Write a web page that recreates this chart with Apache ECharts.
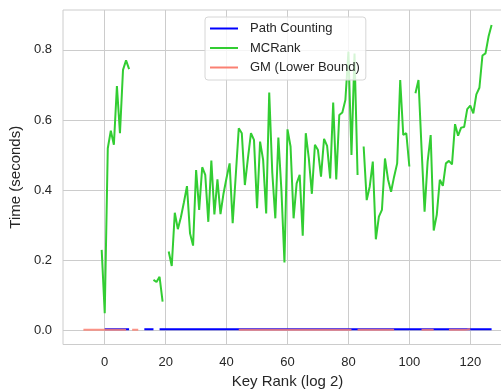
<!DOCTYPE html>
<html>
<head>
<meta charset="utf-8">
<script src="https://cdn.jsdelivr.net/npm/echarts@6/dist/echarts.min.js"></script>
<style>
  html, body { margin: 0; padding: 0; background: #ffffff; }
  #chart { width: 501px; height: 392px; }
</style>
</head>
<body>
<div id="chart"></div>
<script>
// Key rank (log2) for every sample position
const keyRank = [
  -7, -6, -5, -4, -3, -2, -1, 0, 1, 2, 3, 4, 5, 6, 7, 8, 9, 10, 11, 12,
  13, 14, 15, 16, 17, 18, 19, 20, 21, 22, 23, 24, 25, 26, 27, 28, 29, 30, 31, 32,
  33, 34, 35, 36, 37, 38, 39, 40, 41, 42, 43, 44, 45, 46, 47, 48, 49, 50, 51, 52,
  53, 54, 55, 56, 57, 58, 59, 60, 61, 62, 63, 64, 65, 66, 67, 68, 69, 70, 71, 72,
  73, 74, 75, 76, 77, 78, 79, 80, 81, 82, 83, 84, 85, 86, 87, 88, 89, 90, 91, 92,
  93, 94, 95, 96, 97, 98, 99, 100, 101, 102, 103, 104, 105, 106, 107, 108, 109, 110, 111, 112,
  113, 114, 115, 116, 117, 118, 119, 120, 121, 122, 123, 124, 125, 126, 127
];

// MCRank time in seconds (null = no measurement)
const mcRank = [
  null, null, null, null, null, null, 0.229, 0.048, 0.519, 0.569, 0.529, 0.697, 0.562, 0.743, 0.770, 0.745, null, null, null, null,
  null, null, null, 0.143, 0.137, 0.152, 0.081, null, 0.224, 0.183, 0.335, 0.288, 0.322, 0.365, 0.411, 0.276, 0.241, 0.457, 0.343, 0.465,
  0.443, 0.309, 0.484, 0.330, 0.430, 0.331, 0.390, 0.435, 0.476, 0.305, 0.440, 0.576, 0.562, 0.414, 0.490, 0.562, 0.543, 0.348, 0.538, 0.486,
  0.333, 0.678, 0.450, 0.319, 0.550, 0.400, 0.193, 0.573, 0.524, 0.319, 0.419, 0.443, 0.269, 0.562, 0.490, 0.389, 0.529, 0.514, 0.438, 0.546,
  0.526, 0.433, 0.650, 0.430, 0.614, 0.621, 0.657, 0.795, 0.500, 0.790, 0.443, null, 0.524, 0.371, 0.410, 0.481, 0.259, 0.324, 0.343, 0.490,
  0.430, 0.395, 0.438, 0.476, 0.714, 0.557, 0.562, 0.467, null, 0.676, 0.714, 0.520, 0.338, 0.481, 0.557, 0.284, 0.329, 0.429, 0.412, 0.476,
  0.483, 0.473, 0.588, 0.555, 0.578, 0.580, 0.631, 0.641, 0.619, 0.673, 0.692, 0.784, 0.790, 0.838, 0.871
];

// Path Counting time in seconds
const pathCounting = [
  null, null, null, null, null, null, null, 0.0025, 0.0025, 0.0025, 0.0025, 0.0025, 0.0025, 0.0025, 0.0025, 0.0025, null, null, null, null,
  0.0025, 0.0025, 0.0025, 0.0025, null, 0.0025, 0.0025, 0.0025, 0.0025, 0.0025, 0.0025, 0.0025, 0.0025, 0.0025, 0.0025, 0.0025, 0.0025, 0.0025, 0.0025, 0.0025,
  0.0025, 0.0025, 0.0025, 0.0025, 0.0025, 0.0025, 0.0025, 0.0025, 0.0025, 0.0025, 0.0025, 0.0025, 0.0025, 0.0025, 0.0025, 0.0025, 0.0025, 0.0025, 0.0025, 0.0025,
  0.0025, 0.0025, 0.0025, 0.0025, 0.0025, 0.0025, 0.0025, 0.0025, 0.0025, 0.0025, 0.0025, 0.0025, 0.0025, 0.0025, 0.0025, 0.0025, 0.0025, 0.0025, 0.0025, 0.0025,
  0.0025, 0.0025, 0.0025, 0.0025, 0.0025, 0.0025, 0.0025, 0.0025, 0.0025, 0.0025, 0.0025, 0.0025, 0.0025, 0.0025, 0.0025, 0.0025, 0.0025, 0.0025, 0.0025, 0.0025,
  0.0025, 0.0025, 0.0025, 0.0025, 0.0025, 0.0025, 0.0025, 0.0025, 0.0025, 0.0025, 0.0025, 0.0025, 0.0025, 0.0025, 0.0025, 0.0025, 0.0025, 0.0025, 0.0025, 0.0025,
  0.0025, 0.0025, 0.0025, 0.0025, 0.0025, 0.0025, 0.0025, 0.0025, 0.0025, 0.0025, 0.0025, 0.0025, 0.0025, 0.0025, 0.0025
];

// GM (lower bound) time in seconds
const gmLowerBound = [
  0.0008, 0.0008, 0.0008, 0.0008, 0.0008, 0.0008, 0.0008, 0.0008, 0.0008, 0.0008, 0.0008, 0.0008, 0.0008, 0.0008, 0.0008, null, 0.0008, 0.0008, 0.0008, null,
  null, null, null, null, null, null, null, null, null, null, null, null, null, null, null, null, null, null, null, null,
  null, null, null, null, null, null, null, null, null, null, null, 0.0008, 0.0008, 0.0008, 0.0008, 0.0008, 0.0008, 0.0008, 0.0008, 0.0008,
  0.0008, 0.0008, 0.0008, 0.0008, 0.0008, 0.0008, 0.0008, 0.0008, 0.0008, 0.0008, 0.0008, 0.0008, 0.0008, 0.0008, 0.0008, 0.0008, 0.0008, 0.0008, 0.0008, 0.0008,
  0.0008, 0.0008, 0.0008, 0.0008, 0.0008, 0.0008, 0.0008, 0.0008, 0.0008, null, 0.0008, 0.0008, 0.0008, 0.0008, 0.0008, 0.0008, 0.0008, 0.0008, 0.0008, 0.0008,
  0.0008, 0.0008, 0.0008, null, null, null, null, null, null, null, null, 0.0008, 0.0008, 0.0008, 0.0008, 0.0008, null, null, null, null,
  0.0008, 0.0008, 0.0008, 0.0008, 0.0008, 0.0008, 0.0015, 0.0025, null, null, null, null, null, null, null
];

const xTicks = [0, 20, 40, 60, 80, 100, 120];
const yTicks = [0, 0.2, 0.4, 0.6, 0.8];

const pairs = (values) => keyRank.map((k, i) => [k, values[i] === null ? '-' : values[i]]);

const FONT = '"Liberation Sans", Arial, sans-serif';
const TEXT = '#262626';
const GRID = '#cccccc';

const chart = echarts.init(document.getElementById('chart'), null, { renderer: 'canvas' });

chart.setOption({
  animation: false,
  backgroundColor: '#ffffff',
  textStyle: { fontFamily: FONT },
  grid: {
    left: 63, top: 10, right: -11, bottom: 47.5,
    containLabel: false,
    outerBoundsMode: 'none',
    show: true, borderColor: GRID, borderWidth: 1, backgroundColor: 'transparent'
  },
  legend: {
    orient: 'vertical',
    left: 205, top: 17,
    padding: [4, 6, 5, 5],
    itemGap: 4.5,
    itemWidth: 28, itemHeight: 2,
    icon: 'rect',
    backgroundColor: 'rgba(255,255,255,0.8)',
    borderColor: '#d6d6d6', borderWidth: 1, borderRadius: 3,
    textStyle: { fontFamily: FONT, fontSize: 13, color: TEXT, lineHeight: 15, padding: [0, 0, 0, 7] },
    data: ['Path Counting', 'MCRank', 'GM (Lower Bound)']
  },
  xAxis: {
    type: 'value',
    min: -13.7, max: 133.7,
    name: 'Key Rank (log 2)',
    nameLocation: 'middle', nameGap: 30,
    nameTextStyle: { fontFamily: FONT, fontSize: 15, color: TEXT },
    axisLine: { show: false },
    axisTick: { show: false, customValues: xTicks },
    axisLabel: { customValues: xTicks, fontFamily: FONT, fontSize: 13, color: TEXT, margin: 11 },
    splitLine: { show: true, lineStyle: { color: GRID, width: 1 } }
  },
  yAxis: {
    type: 'value',
    min: -0.0414, max: 0.914,
    name: 'Time (seconds)',
    nameLocation: 'middle', nameGap: 40,
    nameTextStyle: { fontFamily: FONT, fontSize: 15, color: TEXT },
    axisLine: { show: false },
    axisTick: { show: false, customValues: yTicks },
    axisLabel: { customValues: yTicks, fontFamily: FONT, fontSize: 13, color: TEXT, margin: 11,
      formatter: (v) => v.toFixed(1) },
    splitLine: { show: true, lineStyle: { color: GRID, width: 1 } }
  },
  series: [
    {
      name: 'Path Counting', type: 'line', data: pairs(pathCounting),
      showSymbol: false, connectNulls: false,
      itemStyle: { color: '#0000ff' },
      lineStyle: { color: '#0000ff', width: 2 }, z: 2
    },
    {
      name: 'MCRank', type: 'line', data: pairs(mcRank),
      showSymbol: false, connectNulls: false,
      itemStyle: { color: '#32cd32' },
      lineStyle: { color: '#32cd32', width: 2 }, z: 3
    },
    {
      name: 'GM (Lower Bound)', type: 'line', data: pairs(gmLowerBound),
      showSymbol: false, connectNulls: false,
      itemStyle: { color: '#fa8072' },
      lineStyle: { color: '#fa8072', width: 2, opacity: 0.85 }, z: 4
    }
  ]
});
</script>
</body>
</html>
